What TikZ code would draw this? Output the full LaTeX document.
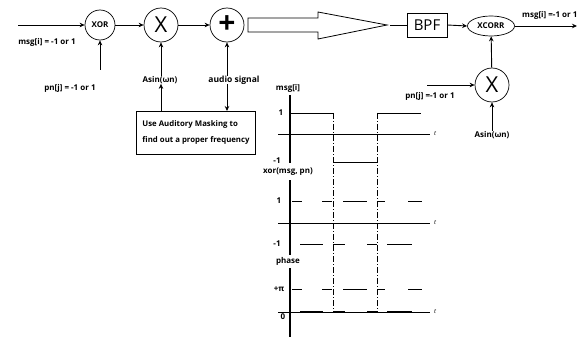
\documentclass[tikz,border=0pt]{standalone}
\usepackage{fontspec}
\setmainfont{Open Sans}
\usetikzlibrary{arrows.meta,shapes.geometric}
\begin{document}
\begin{tikzpicture}[x=1pt,y=-1pt,
  lab/.style={font=\bfseries\fontsize{8}{9}\selectfont, inner sep=0pt},
  circ/.style={circle, draw, line width=0.7pt, minimum size=34pt, inner sep=0pt},
  bigsym/.style={font=\fontsize{22}{22}\selectfont},
  conn/.style={line width=0.9pt, -{Stealth[length=5pt,width=4.5pt]}},
  wave/.style={line width=0.9pt},
  axisline/.style={line width=1.2pt},
  taxis/.style={line width=0.8pt},
  tlab/.style={font=\itshape\fontsize{6}{7}\selectfont, inner sep=0pt},
  guide/.style={line width=0.8pt, dash pattern=on 6pt off 2pt on 1pt off 2pt},
  thickseg/.style={line width=1.8pt}]
\useasboundingbox (0,0) rectangle (587,337);

% ---------- transmitter chain ----------
\node[circ, minimum size=30pt, lab] (xor) at (100,25) {XOR};
\node[circ, bigsym] (mul) at (161,25) {X};
\node[circ, font=\bfseries\fontsize{30}{30}\selectfont] (add) at (227,25) {+};

\coordinate (msgin) at (18,25);
\draw[conn] (msgin) -- (xor);
\node[lab] (msgL) at (47,42) {msg[i] = -1 or 1};

\coordinate (pnLtop) at (100,70);
\draw[conn] (pnLtop) -- (xor);
\node[lab] (pnL) at (70,88) {pn[j] = -1 or 1};

\draw[conn] (xor) -- (mul);
\draw[conn] (mul) -- (add);

\node[lab] (asinL) at (160,80) {Asin(ωn)};
\draw[conn] (asinL.north -| mul) -- (mul);

\node[lab, font=\bfseries\fontsize{8.5}{9}\selectfont] (audio) at (234,80) {audio signal};
\draw[conn] (audio.north -| add) -- (add);

\node[draw, line width=0.9pt, anchor=north west, minimum width=118pt, minimum height=43pt,
      inner xsep=6pt, align=left, font=\bfseries\fontsize{7.8}{16}\selectfont] (mask) at (136,111)
      {Use Auditory Masking to\\find out a proper frequency};
\draw[conn] (mask.north -| mul) -- (asinL.south -| mul);
\draw[conn] (audio.south -| add) -- (mask.north -| add);

% ---------- big channel arrow ----------
\draw[line width=0.8pt] (248,18) -- (318,18) -- (318,12) -- (387,25) -- (318,39) -- (318,32) -- (248,32) -- cycle;
\coordinate (bigtip) at (387,25);

% ---------- receiver ----------
\node[draw, line width=0.9pt, minimum width=40pt, minimum height=24pt, inner sep=0pt,
      font=\fontsize{15}{15}\selectfont] (bpf) at (427,25) {BPF};
\draw[line width=0.9pt, shorten <=3pt] (bigtip) -- (bpf);
\node[ellipse, draw, line width=0.7pt, minimum width=47pt, minimum height=20pt, inner sep=0pt, lab] (xcorr) at (491,26) {XCORR};
\draw[conn] (bpf.east) -- (xcorr.west);
\coordinate (out) at (577,26);
\draw[conn] (xcorr) -- (out);
\node[lab, anchor=west] (msgR) at (522,15) {msg[i] =-1 or 1};

\node[circ, bigsym] (mulR) at (492,85) {X};
\draw[conn] (mulR) -- (xcorr);
\coordinate (pnRin) at (427,85);
\draw[conn] (pnRin) -- (mulR);
\node[lab] (pnR) at (430,96) {pn[j] =-1 or 1};
\node[lab] (asinR) at (492,135) {Asin(ωn)};
\draw[conn] (asinR) -- (mulR);

% ---------- waveforms ----------
\draw[axisline] (290,95) -- (290,163);
\draw[axisline] (290,180) -- (290,255);
\draw[axisline] (290,268) -- (290,337);

\node[lab] (lmsg) at (288,88) {msg[i]};
\node[lab] (lone1) at (281,113) {1};
\node[lab] (lmone1) at (277,161) {-1};
\node[lab] (lxor) at (288,172) {xor(msg, pn)};
\node[lab] (lone2) at (279,201) {1};
\node[lab] (lmone2) at (277,244) {-1};
\node[lab] (lphase) at (288,261) {phase};
\node[lab] (lpi) at (279,289) {+π};
\node[lab] (lzero) at (283,317) {0};

\draw[taxis] (278,134) -- (430,134); \node[tlab] (t1) at (435,134) {t};
\draw[taxis] (278,223) -- (430,223); \node[tlab] (t2) at (435,223) {t};
\draw[taxis] (278,312) -- (430,312); \node[tlab] (t3) at (435,312) {t};

% msg waveform
\draw[wave] (290,113) -- (333,113);
\draw[wave] (333,162) -- (377,162);
\draw[wave] (377,113) -- (421,113);

% transition guides
\draw[guide] (333,113) -- (333,312);
\draw[guide] (377,113) -- (377,312);

% xor levels
\foreach \a/\b in {292/302, 322/332, 343/367, 377/385, 408/422} {
  \draw[wave] (\a,201) -- (\b,201);
  \draw[wave] (\a,289) -- (\b,289);
}
\foreach \a/\b in {300/323, 333/345, 367/377, 387/412} {
  \draw[wave] (\a,244) -- (\b,244);
  \draw[thickseg] (\a,312) -- (\b,312);
}
\end{tikzpicture}
\end{document}
